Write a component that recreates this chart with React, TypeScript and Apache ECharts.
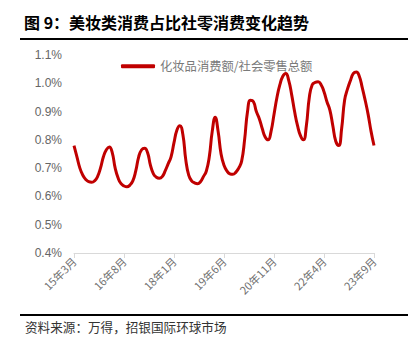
import React, { useEffect, useRef } from "react";
import * as echarts from "echarts";

const startYear = 2015;
const startMonth = 3;
const monthCount = 103;
const categories: string[] = [];
for (let k = 0; k < monthCount; k++) {
  const m0 = startMonth - 1 + k;
  const y = startYear + Math.floor(m0 / 12);
  const m = (m0 % 12) + 1;
  categories.push(`${String(y).slice(2)}年${m}月`);
}

const seriesName = "化妆品消费额/社会零售总额";
const ratioValues = [
  0.78, 0.74, 0.70, 0.675, 0.66, 0.652, 0.65, 0.655, 0.67, 0.70, 0.74, 0.765,
  0.775, 0.755, 0.70, 0.665, 0.645, 0.637, 0.634, 0.64, 0.655, 0.69, 0.74, 0.765,
  0.77, 0.755, 0.71, 0.68, 0.668, 0.664, 0.67, 0.69, 0.715, 0.74, 0.79, 0.835,
  0.85, 0.82, 0.73, 0.675, 0.655, 0.648, 0.645, 0.652, 0.67, 0.69, 0.74, 0.83,
  0.88, 0.83, 0.75, 0.71, 0.69, 0.68, 0.678, 0.685, 0.70, 0.725, 0.80, 0.90,
  0.94, 0.935, 0.90, 0.875, 0.84, 0.81, 0.80, 0.83, 0.89, 0.95, 0.995, 1.025,
  1.035, 1.01, 0.96, 0.90, 0.85, 0.815, 0.80, 0.85, 0.95, 0.995, 1.003, 1.005,
  0.995, 0.97, 0.935, 0.905, 0.85, 0.795, 0.78, 0.84, 0.94, 0.98, 1.01, 1.035,
  1.04, 1.025, 0.985, 0.94, 0.89, 0.83, 0.78,
];

const titleText = "图 9：美妆类消费占比社零消费变化趋势";
const sourceText = "资料来源：万得，招银国际环球市场";

export default function App() {
  const ref = useRef<HTMLDivElement>(null);
  useEffect(() => {
    if (!ref.current) return;
    const chart = echarts.init(ref.current, null, { renderer: "svg" });
    const font = "'Noto Sans CJK SC', sans-serif";
    chart.setOption({
      animation: false,
      backgroundColor: "#ffffff",
      textStyle: { fontFamily: font },
      grid: { left: 74, right: 44, top: 55, bottom: 98, containLabel: false },
      legend: {
        data: [seriesName],
        left: 116,
        top: 55,
        icon: "roundRect",
        itemWidth: 34,
        itemHeight: 4,
        itemGap: 5,
        textStyle: { color: "#7a7a7a", fontSize: 12.3, fontFamily: font },
      },
      xAxis: {
        type: "category",
        data: categories,
        boundaryGap: false,
        axisLine: { lineStyle: { color: "#d9d9d9" } },
        axisTick: { show: true, interval: 16, lineStyle: { color: "#d9d9d9" } },
        axisLabel: {
          interval: 16,
          rotate: 45,
          color: "#707070",
          fontSize: 11,
          margin: 6,
          fontFamily: font,
        },
      },
      yAxis: {
        type: "value",
        min: 0.4,
        max: 1.1,
        interval: 0.1,
        axisLine: { show: false },
        axisTick: { show: false },
        splitLine: { show: false },
        axisLabel: {
          color: "#666666",
          fontSize: 12,
          margin: 12,
          fontFamily: "Arial, 'Liberation Sans', sans-serif",
          formatter: (v: number) => v.toFixed(1) + "%",
        },
      },
      series: [
        {
          name: seriesName,
          type: "line",
          data: ratioValues,
          smooth: 0.5,
          symbol: "none",
          lineStyle: { color: "#c00000", width: 3 },
          itemStyle: { color: "#c00000" },
        },
      ],
      graphic: [
        {
          type: "text",
          left: 24,
          top: 14,
          style: {
            text: titleText,
            fill: "#000000",
            font: `bold 16px ${font}`,
          },
        },
        {
          type: "rect",
          shape: { x: 20, y: 38, width: 388, height: 2 },
          style: { fill: "#000000" },
        },
        {
          type: "rect",
          shape: { x: 20, y: 314, width: 388, height: 2 },
          style: { fill: "#000000" },
        },
        {
          type: "text",
          left: 25,
          top: 320,
          style: {
            text: sourceText,
            fill: "#333333",
            font: `12.6px ${font}`,
          },
        },
      ],
    });
    return () => chart.dispose();
  }, []);
  return (
    <div
      ref={ref}
      style={{ position: "fixed", left: 0, top: 0, width: 418, height: 351 }}
    />
  );
}
